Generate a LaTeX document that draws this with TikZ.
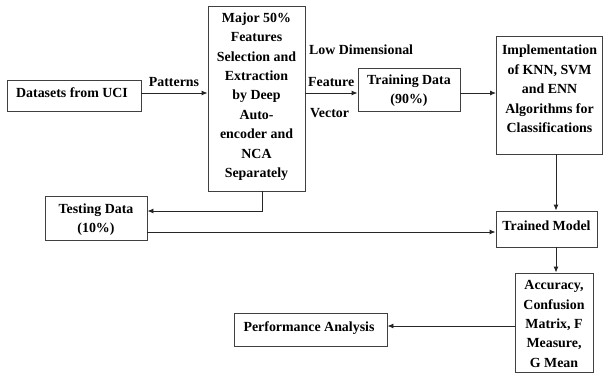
\documentclass[tikz,border=0pt]{standalone}
\usepackage{fontspec}
\setmainfont{Liberation Serif}
\usetikzlibrary{arrows.meta}
\begin{document}
\begin{tikzpicture}[x=1pt,y=-1pt,
  box/.style={draw=black!75,line width=0.9pt,rectangle,inner sep=0pt,align=center},
  txt/.style={inner sep=0pt,align=center,font=\fontsize{13.9}{19.4}\selectfont\bfseries},
  lbl/.style={inner sep=0pt,font=\fontsize{13.9}{19.4}\selectfont\bfseries},
  conn/.style={draw=black!85,line width=0.9pt},
  arr/.style={conn,-{Latex[length=6pt,width=5pt]}}]
\useasboundingbox (0,0) rectangle (603,378);
% boxes
\node[box,minimum width=134pt,minimum height=31pt] (ds) at (74,95.5) {};
\node[txt] (dst) at (72,93) {Datasets from UCI};
\node[box,minimum width=97pt,minimum height=185pt] (major) at (256.5,98.5) {};
\node[txt] (majort) at (256.5,96.5) {Major 50\%\\Features\\Selection and\\Extraction\\by Deep\\Auto-\\encoder and\\NCA\\Separately};
\node[box,minimum width=102pt,minimum height=43pt] (train) at (409,89.5) {};
\node[txt] (traint) at (409,90.5) {Training Data\\(90\%)};
\node[box,minimum width=106pt,minimum height=118pt] (impl) at (549.5,95) {};
\node[txt] (implt) at (549.5,89) {Implementation\\of KNN, SVM\\and ENN\\Algorithms for\\Classifications};
\node[box,minimum width=101pt,minimum height=36pt] (trained) at (546.5,229) {};
\node[txt] (trainedt) at (546.5,226) {Trained Model};
\node[box,minimum width=102pt,minimum height=44pt] (test) at (96,218) {};
\node[txt] (testt) at (96,219.5) {Testing Data\\(10\%)};
\node[box,minimum width=78pt,minimum height=99pt] (acc) at (554,322.5) {};
\node[txt] (acct) at (554,324) {Accuracy,\\Confusion\\Matrix, F\\Measure,\\G Mean};
\node[box,minimum width=153pt,minimum height=33pt] (perf) at (310.5,329.5) {};
\node[txt] (perft) at (309,328) {Performance Analysis};
% labels
\node[lbl] (lpat) at (174,82) {Patterns};
\node[lbl,anchor=west] (llow) at (309,50) {Low Dimensional};
\node[lbl,anchor=west] (lfeat) at (308,82) {Feature};
\node[lbl,anchor=west] (lvec) at (310,113) {Vector};
% helper coordinates
\coordinate (m1) at (262,211);
\coordinate (c1) at (556,0);
% connectors
\draw[arr] (ds.east |- 0,93) -- (major.west |- 0,93);
\draw[arr] (major.east |- 0,93) -- (train.west |- 0,93);
\draw[arr] (train.east |- 0,93) -- (impl.west |- 0,93);
\draw[arr] (impl.south -| c1) -- (trained.north -| c1);
\draw[arr] (major.south -| m1) -- (m1) -- (test.east |- m1);
\draw[arr] (test.east |- 0,232) -- (trained.west |- 0,232);
\draw[arr] (trained.south -| c1) -- (acc.north -| c1);
\draw[arr] (acc.west |- 0,326) -- (perf.east |- 0,326);
\end{tikzpicture}
\end{document}
